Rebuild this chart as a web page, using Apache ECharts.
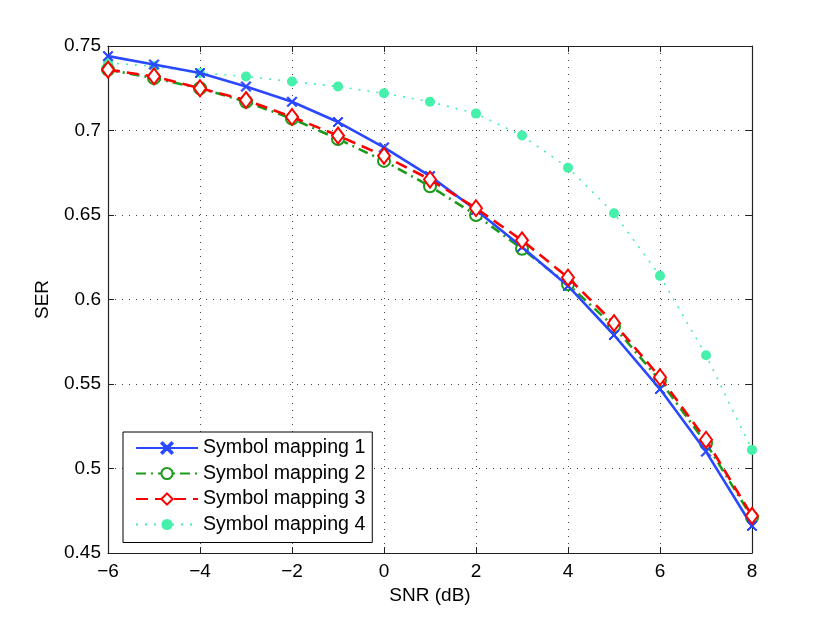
<!DOCTYPE html>
<html>
<head>
<meta charset="utf-8">
<script src="https://cdn.jsdelivr.net/npm/echarts@6/dist/echarts.min.js"></script>
<style>
  html, body { margin: 0; padding: 0; background: #fff; }
  #chart { width: 830px; height: 623px; }
</style>
</head>
<body>
<div id="chart"></div>
<script>
// SNR points (dB)
var snr = [-6, -5, -4, -3, -2, -1, 0, 1, 2, 3, 4, 5, 6, 7, 8];

// SER
var map1 = [0.744, 0.739, 0.734, 0.726, 0.717, 0.705, 0.690, 0.673, 0.653, 0.631, 0.608, 0.579, 0.547, 0.510, 0.466];
var map2 = [0.736, 0.731, 0.725, 0.717, 0.707, 0.695, 0.682, 0.667, 0.650, 0.630, 0.609, 0.584, 0.552, 0.515, 0.471];
var map3 = [0.736, 0.732, 0.725, 0.718, 0.708, 0.697, 0.685, 0.671, 0.654, 0.635, 0.613, 0.586, 0.554, 0.517, 0.472];
var map4 = [0.740, 0.738, 0.734, 0.732, 0.729, 0.726, 0.722, 0.717, 0.710, 0.697, 0.678, 0.651, 0.614, 0.567, 0.511];

var names = ['Symbol mapping 1', 'Symbol mapping 2', 'Symbol mapping 3', 'Symbol mapping 4'];

function pairs(arr) {
    return snr.map(function (x, i) { return [x, arr[i]]; });
}

function minus(v) {
    return String(v).replace('-', '\u2212');
}

var font = 'Liberation Sans, Arial, Helvetica, sans-serif';
var crossPath = 'path://M0,1L1,0L5,4L9,0L10,1L6,5L10,9L9,10L5,6L1,10L0,9L4,5Z';

var chart = echarts.init(document.getElementById('chart'));

var tickStyle = { show: true, inside: true, length: 6, lineStyle: { color: '#222', width: 1 } };
var lineAxis = { show: true, onZero: false, lineStyle: { color: '#222', width: 1.2 } };
var gridLine = { show: true, lineStyle: { color: '#444', width: 1, type: [1, 6] } };

var option = {
    animation: false,
    backgroundColor: '#fff',
    textStyle: { fontFamily: font },
    grid: { left: 108, top: 46, width: 644, height: 507, show: false },
    legend: {
        data: names,
        orient: 'vertical',
        left: 123,
        top: 432,
        itemWidth: 62,
        itemHeight: 14,
        itemGap: 5.5,
        padding: [6, 7, 8, 12],
        borderColor: '#000',
        borderWidth: 1,
        backgroundColor: '#fff',
        textStyle: { fontFamily: font, fontSize: 19.6, color: '#000' }
    },
    xAxis: [{
        type: 'value',
        min: -6,
        max: 8,
        interval: 2,
        name: 'SNR (dB)',
        nameLocation: 'middle',
        nameGap: 32,
        nameTextStyle: { fontSize: 19, color: '#000', fontFamily: font },
        axisLine: lineAxis,
        axisTick: tickStyle,
        axisLabel: { fontSize: 19, color: '#000', margin: 9, formatter: minus },
        splitLine: gridLine
    }, {
        type: 'value',
        position: 'top',
        min: -6,
        max: 8,
        interval: 2,
        axisLine: lineAxis,
        axisTick: tickStyle,
        axisLabel: { show: false },
        splitLine: { show: false }
    }],
    yAxis: [{
        type: 'value',
        min: 0.45,
        max: 0.75,
        interval: 0.05,
        name: 'SER',
        nameLocation: 'middle',
        nameGap: 56,
        nameTextStyle: { fontSize: 19, color: '#000', fontFamily: font },
        axisLine: lineAxis,
        axisTick: tickStyle,
        axisLabel: {
            fontSize: 19, color: '#000', margin: 7,
            formatter: function (v) { return String(+v.toFixed(2)); }
        },
        splitLine: gridLine
    }, {
        type: 'value',
        position: 'right',
        min: 0.45,
        max: 0.75,
        interval: 0.05,
        axisLine: lineAxis,
        axisTick: tickStyle,
        axisLabel: { show: false },
        splitLine: { show: false }
    }],
    series: [{
        name: names[0],
        type: 'line',
        data: pairs(map1),
        symbol: crossPath,
        symbolSize: 10,
        showAllSymbol: true,
        lineStyle: { color: '#2a48ff', width: 2.6, type: 'solid' },
        itemStyle: { color: '#2a48ff', borderColor: '#2a48ff', borderWidth: 1 },
        z: 4
    }, {
        name: names[1],
        type: 'line',
        data: pairs(map2),
        symbol: 'emptyCircle',
        symbolSize: 12,
        showAllSymbol: true,
        lineStyle: { color: '#1b9a1b', width: 2.6, type: [10, 5, 2, 5] },
        itemStyle: { color: '#1b9a1b', borderColor: '#1b9a1b', borderWidth: 2.2 },
        z: 3
    }, {
        name: names[2],
        type: 'line',
        data: pairs(map3),
        symbol: 'emptyDiamond',
        symbolSize: [12, 16],
        showAllSymbol: true,
        lineStyle: { color: '#ff0000', width: 2.6, type: [12, 7] },
        itemStyle: { color: '#ff0000', borderColor: '#ff0000', borderWidth: 2.2 },
        z: 5
    }, {
        name: names[3],
        type: 'line',
        data: pairs(map4),
        symbol: 'circle',
        symbolSize: 10,
        showAllSymbol: true,
        lineStyle: { color: '#44f0aa', width: 1.6, type: [2, 7] },
        itemStyle: { color: '#44f0aa' },
        z: 2
    }]
};

chart.setOption(option);
</script>
</body>
</html>
